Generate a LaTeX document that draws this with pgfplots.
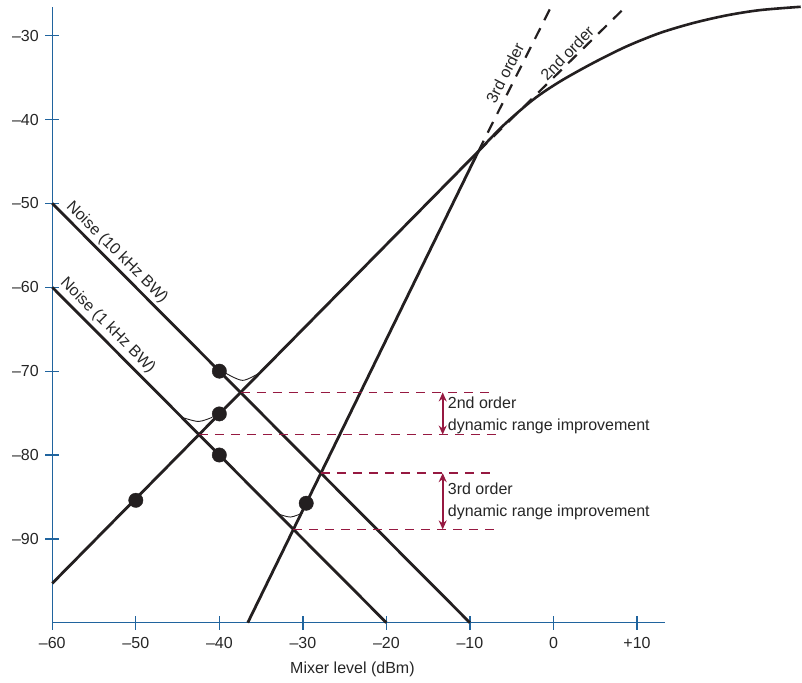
\documentclass[border=0pt]{standalone}
\usepackage{fontspec}
\setmainfont{Liberation Sans}
\usepackage{pgfplots}
\pgfplotsset{compat=1.18}
\usetikzlibrary{arrows.meta}

\definecolor{axisblue}{RGB}{32,100,158}
\definecolor{ink}{RGB}{35,31,32}
\definecolor{wine}{RGB}{150,25,65}

\begin{document}
\fontsize{16}{21.5}\selectfont
\begin{tikzpicture}
\begin{axis}[
  x=8.357pt, y=8.39pt,
  xmin=-60, xmax=13.3, ymin=-100, ymax=-26.6,
  axis lines=left,
  axis line style={draw=axisblue, line width=1.3pt, -},
  tick style={draw=axisblue, line width=1.3pt},
  major tick length=14pt,
  tick align=center,
  xtick={-60,-50,...,10},
  xticklabels={–60,–50,–40,–30,–20,–10,0,+10},
  ytick={-90,-80,...,-30},
  yticklabels={–90,–80,–70,–60,–50,–40,–30},
  ticklabel style={font=\fontsize{16}{19}\selectfont, text=black!85},
  xticklabel style={yshift=-2pt},
  yticklabel style={xshift=-1pt},
  clip=false,
]
% invisible frame so the page has the reference's size
\path (axis cs:-66.26,-25.74) rectangle (axis cs:29.71,-107.15);

% noise floors
\addplot[ink, line width=2.8pt] coordinates {(-60,-50) (-10,-100)};
\addplot[ink, line width=2.8pt] coordinates {(-60,-60) (-20,-100)};

% dashed extensions
\addplot[ink, line width=2.2pt, dash pattern=on 12pt off 9pt] coordinates {(-9,-43.8) (-0.36,-26.7)};
\addplot[ink, line width=2.2pt, dash pattern=on 12pt off 9pt] coordinates {(-9,-43.8) (8.7,-26.5)};

% 2nd and 3rd order distortion
\addplot[ink, line width=2.8pt] coordinates {(-60,-95.3) (-9,-43.8)};
\addplot[ink, line width=2.8pt] coordinates {(-36.6,-100) (-9,-43.8)};

% compression curve
\addplot[ink, line width=2.6pt, smooth] coordinates {
  (-9,-43.8) (-6,-40.7) (-2.4,-37.6) (0.8,-35.45) (4.75,-33.25) (8.74,-31.28)
  (12.73,-29.68) (16.72,-28.49) (20.71,-27.58) (24.7,-26.95) (29.6,-26.55)};

% small arcs
\addplot[ink, line width=0.9pt, smooth] coordinates {(-39.3,-70.2) (-37.2,-71.1) (-35.1,-70.15)};
\addplot[ink, line width=0.9pt, smooth] coordinates {(-44.5,-75.5) (-42.5,-76.0) (-40.85,-75.5)};
\addplot[ink, line width=0.9pt, smooth] coordinates {(-33.0,-87.0) (-31.5,-87.4) (-30.0,-86.9)};

% dots
\addplot[only marks, mark=*, mark size=7.2pt, ink] coordinates {
  (-40,-70) (-40,-75.1) (-40,-80) (-50,-85.4) (-29.6,-85.75)};

% dynamic range levels
\addplot[wine, line width=1.6pt, dash pattern=on 9pt off 7pt] coordinates {(-37.46,-72.54) (-7.4,-72.54)};
\addplot[wine, line width=1.6pt, dash pattern=on 9pt off 7pt] coordinates {(-42.44,-77.56) (-6.6,-77.56)};
\addplot[wine, line width=1.6pt, dash pattern=on 9pt off 7pt] coordinates {(-27.84,-82.16) (-7,-82.16)};
\addplot[wine, line width=1.6pt, dash pattern=on 9pt off 7pt] coordinates {(-31.13,-88.87) (-7,-88.87)};

\addplot[wine, line width=1.8pt, {Stealth[length=9pt,width=8pt]}-{Stealth[length=9pt,width=8pt]}]
  coordinates {(-13.26,-72.54) (-13.26,-77.56)};
\addplot[wine, line width=1.8pt, {Stealth[length=9pt,width=8pt]}-{Stealth[length=9pt,width=8pt]}]
  coordinates {(-13.26,-82.16) (-13.26,-88.87)};

\node[anchor=west, align=left, inner sep=0pt, text=black!85] at (axis cs:-12.66,-75.3)
  {2nd order\\dynamic range improvement};
\node[anchor=west, align=left, inner sep=0pt, text=black!85] at (axis cs:-12.66,-85.55)
  {3rd order\\dynamic range improvement};

% line labels
\node[rotate=-45, anchor=south, inner sep=3.5pt, text=black!85] at (axis cs:-53.2,-56.8) {Noise (10 kHz BW)};
\node[rotate=-45, anchor=south, inner sep=4.5pt, text=black!85] at (axis cs:-54.4,-65.6) {Noise (1 kHz BW)};
\node[rotate=63, anchor=south, inner sep=5pt, text=black!85] at (axis cs:-4.61,-35.02) {3rd order};
\node[rotate=46, anchor=south, inner sep=4.5pt, text=black!85] at (axis cs:2.55,-32.96) {2nd order};

\node[text=black!85] at (axis cs:-24.07,-105.6) {Mixer level (dBm)};
\end{axis}
\end{tikzpicture}
\end{document}
